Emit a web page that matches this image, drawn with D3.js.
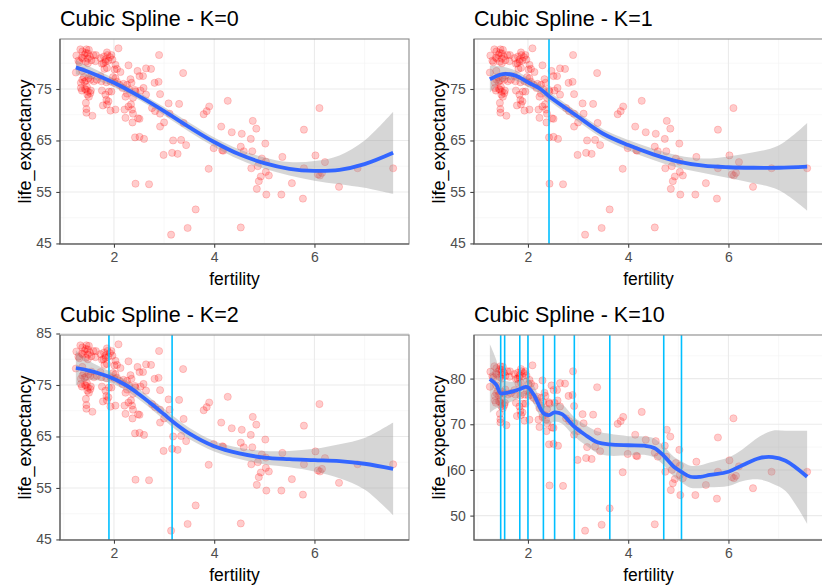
<!DOCTYPE html>
<html>
<head>
<meta charset="utf-8">
<script src="https://cdn.jsdelivr.net/npm/d3@7"></script>
<style>
  body { margin: 0; background: #fff; }
  svg { display: block; font-family: "Liberation Sans", Arial, sans-serif; }
</style>
</head>
<body>
<svg id="chart" width="822" height="585"></svg>
<script>
var fertility = [
  1.25,1.29,1.33,1.37,1.38,1.41,1.44,1.45,1.48,1.50,1.44,1.48,1.52,1.55,1.59,1.64,1.73,1.79,1.83,1.86,
  1.87,1.92,1.95,1.97,2.03,2.06,1.83,1.76,1.81,1.86,1.89,1.80,1.36,1.31,1.48,1.63,
  1.24,1.37,1.37,1.41,1.34,1.44,1.49,1.53,1.60,1.66,1.73,1.75,1.93,1.85,1.55,1.40,1.98,2.01,2.06,2.03,
  2.11,2.19,2.26,2.33,2.35,1.90,
  1.34,1.36,1.44,1.48,1.47,1.53,1.50,1.54,1.42,1.46,1.76,1.83,1.95,1.85,1.86,1.78,1.89,2.17,2.26,2.30,
  2.23,2.38,2.43,2.42,2.53,2.59,2.64,2.92,
  1.44,1.45,1.45,1.57,1.93,2.03,2.29,2.36,2.38,2.37,2.21,2.23,2.48,2.51,2.76,2.82,2.92,3.00,2.92,3.09,
  3.11,3.30,2.34,
  2.09,2.90,3.38,2.64,2.74,2.29,2.47,2.58,2.51,2.81,2.89,2.13,2.01,
  2.42,2.51,2.60,2.99,3.18,3.16,3.27,3.34,3.39,3.44,3.14,3.47,3.63,2.43,2.70,3.79,3.85,3.90,3.89,3.99,
  4.14,4.16,4.18,4.27,4.35,4.53,4.55,4.53,4.59,4.73,4.77,4.84,4.76,4.74,4.87,4.93,4.89,4.85,4.95,5.03,
  5.02,5.03,5.09,5.04,5.36,5.34,5.55,5.77,5.79,5.79,6.02,6.07,6.11,6.10,6.15,6.21,6.49,6.86,7.57
];
var lifeExpectancy = [
  81.5,80.5,82.7,82.3,80.9,81.6,82.0,82.7,80.9,82.6,80.3,80.0,81.3,80.6,81.6,81.6,81.0,80.0,80.7,82.1,
  81.6,81.2,81.6,80.7,79.7,78.9,80.3,79.9,78.9,79.1,80.5,81.3,81.1,80.2,81.9,80.4,
  78.2,78.5,76.8,76.4,76.2,76.6,77.1,76.8,76.5,76.8,77.5,76.5,76.5,76.3,77.6,77.3,77.3,76.2,76.4,77.1,
  75.8,76.0,75.8,76.9,76.2,74.5,
  75.2,74.7,74.9,74.5,73.9,74.2,73.5,74.7,75.0,75.4,74.7,73.9,74.5,72.9,72.0,71.8,72.6,75.2,74.1,74.9,
  73.5,73.3,74.5,74.8,74.7,75.2,73.9,74.0,
  72.3,71.1,70.4,69.8,70.8,71.0,71.6,71.0,70.2,68.5,71.0,69.4,69.3,69.2,71.3,70.7,70.2,68.5,67.7,72.2,
  70.2,72.1,72.0,
  82.9,81.6,78.1,79.0,78.9,79.6,78.5,77.5,77.5,76.2,76.4,78.3,78.8,
  65.6,65.7,65.3,62.2,65.0,62.6,62.4,65.1,68.4,64.1,46.7,48.0,51.6,56.6,56.5,70.1,70.7,71.6,59.5,63.5,
  67.7,63.1,63.0,72.7,66.6,48.1,66.3,63.8,62.9,65.3,68.8,67.3,62.9,59.6,60.0,58.0,57.1,55.6,61.5,60.9,
  64.4,58.9,58.2,54.5,61.8,54.5,56.7,53.7,59.6,67.1,62.1,58.4,58.2,71.3,58.7,60.8,56.0,59.6,59.6
];

// fitted splines + confidence band
var fitX0 = [1.24,1.5,2,2.5,3,3.5,4,4.5,5,5.5,6,6.5,7,7.57];
var fit0  = [79.2,78.3,76.2,73.6,70.7,67.6,64.7,62.3,60.6,59.5,59.1,59.3,60.4,62.6];
var lo0   = [77.8,77.2,75.4,72.9,69.9,66.7,63.8,61.3,59.5,58.2,57.2,56.5,55.8,54.6];
var up0   = [80.6,79.4,77.0,74.3,71.5,68.5,65.6,63.3,61.7,60.8,61.0,62.1,65.0,70.6];

var fitX1 = [1.24,1.5,1.75,2,2.25,2.42,2.75,3,3.5,4,4.5,5,5.5,6,6.5,7,7.57];
var fit1  = [76.9,77.9,77.6,76.3,75.0,73.6,71.3,69.6,66.3,64.1,62.3,60.9,60.1,59.8,59.7,59.7,59.9];
var lo1   = [74.3,76.5,76.6,75.4,74.1,72.7,70.4,68.7,65.4,63.1,61.2,59.7,58.7,57.7,56.7,55.4,51.4];
var up1   = [79.5,79.3,78.6,77.2,75.9,74.5,72.2,70.5,67.2,65.1,63.4,62.1,61.5,61.9,62.7,64.0,68.4];

var fitX2 = [1.24,1.5,1.9,2.25,2.5,2.75,3,3.16,3.5,4,4.5,5,5.5,6,6.5,7,7.57];
var fit2  = [78.3,77.8,76.6,74.9,73.2,71.3,69.3,68.0,65.6,63.1,61.7,60.9,60.6,60.4,60.2,59.7,58.7];
var lo2   = [74.9,75.9,75.5,73.9,72.2,70.3,68.2,66.9,64.5,62.1,60.6,59.6,59.0,58.2,56.9,54.7,49.7];
var up2   = [81.7,79.7,77.7,75.9,74.2,72.3,70.4,69.1,66.7,64.1,62.8,62.2,62.2,62.6,63.5,64.7,67.7];

var fitX10 = [1.24,1.37,1.45,1.53,1.7,1.84,1.96,2.01,2.12,2.31,2.42,2.53,2.68,2.92,3.14,3.40,3.63,4.0,4.32,4.52,4.71,4.91,5.06,5.24,5.44,5.63,6.0,6.29,6.62,6.88,7.14,7.57];
var fit10  = [79.9,78.6,76.8,76.8,77.2,77.7,78.2,78.0,76.4,72.4,72.0,72.6,72.2,69.5,67.7,66.0,65.6,65.4,65.3,64.8,63.1,60.7,59.6,58.5,58.5,58.9,59.6,61.1,62.6,62.8,62.0,58.5];
var lo10   = [72.5,73.5,73.6,74.2,75.1,75.8,76.2,75.9,74.4,70.4,70.0,70.6,70.1,67.4,65.5,63.6,63.1,63.2,63.3,62.7,61.0,58.5,57.3,56.1,56.0,56.2,56.5,57.6,57.9,57.0,55.4,48.2];
var up10   = [87.5,84.0,80.0,79.5,79.3,79.6,80.2,80.1,78.4,74.4,74.0,74.6,74.3,71.6,69.9,68.4,67.9,67.4,67.3,66.9,65.2,62.9,61.9,60.9,61.0,61.6,62.7,64.6,67.3,68.6,68.6,68.6];

var knots0 = [];
var knots1 = [2.42];
var knots2 = [1.90, 3.16];
var knots10 = [1.456,1.535,1.837,2.0,2.308,2.532,2.925,3.633,4.709,5.063];

var xTicks = [2, 4, 6];
var xMinor = [1, 3, 5, 7];
var yTicksA = [45, 55, 65, 75];
var yMinorA = [50, 60, 70, 80];
var yTicksB = [45, 55, 65, 75, 85];
var yMinorB = [50, 60, 70, 80];
var yTicksC = [50, 60, 70, 80];
var yMinorC = [45, 55, 65, 75, 85];

var panels = [
  {title: "Cubic Spline - K=0",  left: 60,  top: 39,  fx: fitX0,  fit: fit0,  lo: lo0,  up: up0,  knots: knots0,  yt: yTicksA, ym: yMinorA},
  {title: "Cubic Spline - K=1",  left: 474, top: 39,  fx: fitX1,  fit: fit1,  lo: lo1,  up: up1,  knots: knots1,  yt: yTicksA, ym: yMinorA},
  {title: "Cubic Spline - K=2",  left: 60,  top: 335, fx: fitX2,  fit: fit2,  lo: lo2,  up: up2,  knots: knots2,  yt: yTicksB, ym: yMinorB},
  {title: "Cubic Spline - K=10", left: 474, top: 335, fx: fitX10, fit: fit10, lo: lo10, up: up10, knots: knots10, yt: yTicksC, ym: yMinorC}
];

var W = 349, H = 205;
var svg = d3.select("#chart");

function expand(ext) {
  var r = ext[1] - ext[0];
  return [ext[0] - r * 0.05, ext[1] + r * 0.05];
}

var xExt = d3.extent(fertility);

panels.forEach(function(p, idx) {
  var yExt = [Math.min(d3.min(lifeExpectancy), d3.min(p.lo)), Math.max(d3.max(lifeExpectancy), d3.max(p.up))];
  var x = d3.scaleLinear().domain(expand(xExt)).range([0, W]);
  var y = d3.scaleLinear().domain(expand(yExt)).range([H, 0]);

  var g = svg.append("g").attr("transform", "translate(" + p.left + "," + p.top + ")");

  g.append("clipPath").attr("id", "clip" + idx)
    .append("rect").attr("width", W).attr("height", H);

  // grid
  var grid = g.append("g");
  grid.selectAll(".vmin").data(xMinor).enter().append("line")
    .attr("x1", x).attr("x2", x).attr("y1", 0).attr("y2", H)
    .attr("stroke", "#f3f3f3").attr("stroke-width", 0.6);
  grid.selectAll(".hmin").data(p.ym).enter().append("line")
    .attr("y1", y).attr("y2", y).attr("x1", 0).attr("x2", W)
    .attr("stroke", "#f3f3f3").attr("stroke-width", 0.6);
  grid.selectAll(".vmaj").data(xTicks).enter().append("line")
    .attr("x1", x).attr("x2", x).attr("y1", 0).attr("y2", H)
    .attr("stroke", "#ebebeb").attr("stroke-width", 1.1);
  grid.selectAll(".hmaj").data(p.yt).enter().append("line")
    .attr("y1", y).attr("y2", y).attr("x1", 0).attr("x2", W)
    .attr("stroke", "#ebebeb").attr("stroke-width", 1.1);

  var plot = g.append("g").attr("clip-path", "url(#clip" + idx + ")");

  // points
  plot.selectAll("circle").data(fertility).enter().append("circle")
    .attr("cx", function(d) { return x(d); })
    .attr("cy", function(d, i) { return y(lifeExpectancy[i]); })
    .attr("r", 3.6)
    .attr("fill", "red").attr("fill-opacity", 0.2)
    .attr("stroke", "red").attr("stroke-opacity", 0.22).attr("stroke-width", 0.8);

  // knot lines
  plot.selectAll(".knot").data(p.knots).enter().append("line")
    .attr("x1", x).attr("x2", x).attr("y1", 0).attr("y2", H)
    .attr("stroke", "#00bfff").attr("stroke-width", 1.6);

  // ribbon + fit
  var band = d3.area()
    .x(function(d, i) { return x(p.fx[i]); })
    .y0(function(d, i) { return y(p.lo[i]); })
    .y1(function(d, i) { return y(p.up[i]); })
    .curve(d3.curveCatmullRom.alpha(0.5));
  plot.append("path").datum(p.fit).attr("d", band)
    .attr("fill", "#999999").attr("fill-opacity", 0.4);

  var line = d3.line()
    .x(function(d, i) { return x(p.fx[i]); })
    .y(function(d) { return y(d); })
    .curve(d3.curveCatmullRom.alpha(0.5));
  plot.append("path").datum(p.fit).attr("d", line)
    .attr("fill", "none").attr("stroke", "#3366ff").attr("stroke-width", 3.8)
    .attr("stroke-linecap", "butt");

  // border
  g.append("rect").attr("width", W).attr("height", H)
    .attr("fill", "none").attr("stroke", "#8a8a8a").attr("stroke-width", 1.1);
  g.append("path").attr("d", "M0,0V" + H + "H" + W)
    .attr("fill", "none").attr("stroke", "#555").attr("stroke-width", 1.1);

  // axes
  var xa = g.append("g").attr("transform", "translate(0," + H + ")")
    .call(d3.axisBottom(x).tickValues(xTicks).tickSize(3.7).tickPadding(4.5).tickFormat(d3.format("d")));
  var ya = g.append("g")
    .call(d3.axisLeft(y).tickValues(p.yt).tickSize(3.7).tickPadding(4.5).tickFormat(d3.format("d")));
  [xa, ya].forEach(function(a) {
    a.select(".domain").remove();
    a.selectAll("line").attr("stroke", "#444").attr("stroke-width", 1.1);
    a.selectAll("text").attr("fill", "#4d4d4d").style("font-size", "14px")
      .style("font-family", "Liberation Sans, Arial, sans-serif");
  });

  // titles and labels
  g.append("text").attr("x", 0).attr("y", -13)
    .attr("fill", "#000").style("font-size", "21.5px").text(p.title);
  g.append("text").attr("x", W / 2).attr("y", H + 41)
    .attr("text-anchor", "middle").attr("fill", "#000").style("font-size", "17.5px").text("fertility");
  g.append("text").attr("transform", "translate(-29," + (H / 2) + ") rotate(-90)")
    .attr("text-anchor", "middle").attr("fill", "#000").style("font-size", "18px").text("life_expectancy");
});
</script>
</body>
</html>
